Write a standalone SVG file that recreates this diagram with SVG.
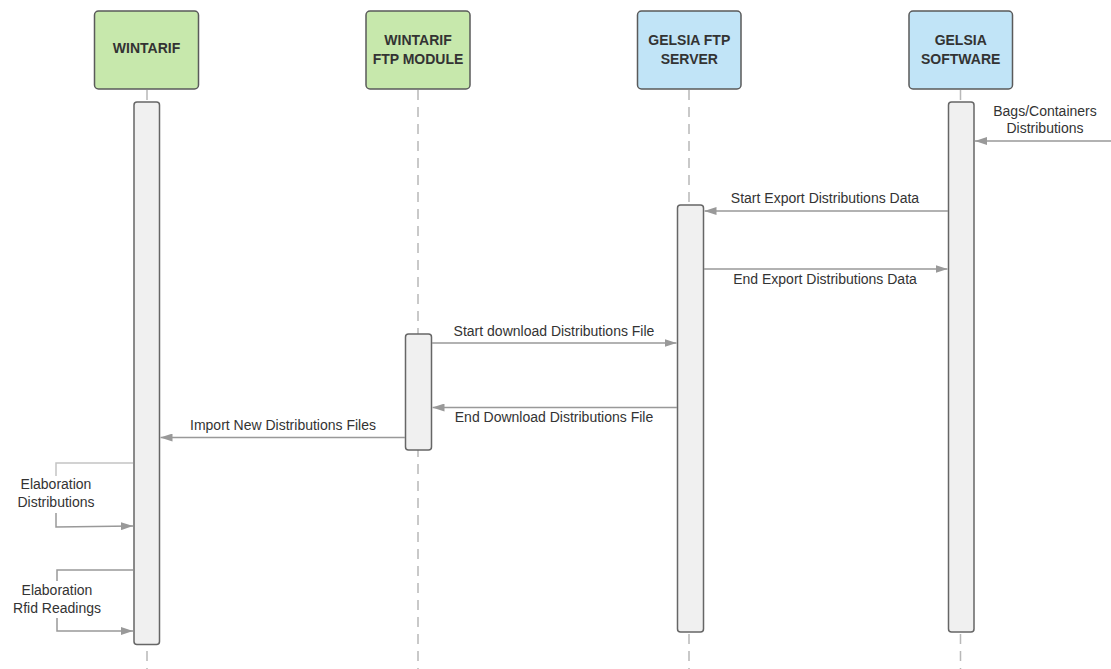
<svg xmlns="http://www.w3.org/2000/svg" width="1111" height="669" viewBox="0 0 1111 669">
<style>
.hdr{stroke:#5a5a5a;stroke-width:1.5}
.green{fill:#c7e8ac}
.blue{fill:#c1e4f7}
.ht{font-family:"Liberation Sans",Arial,sans-serif;font-size:14px;font-weight:bold;fill:#333;text-anchor:middle}
.life{stroke:#b8b8b8;stroke-width:1.5;stroke-dasharray:10 7;fill:none}
.act{fill:#f0f0f0;stroke:#666;stroke-width:1.5}
.msg{stroke:#999;stroke-width:1.5;fill:none}
.lbl{font-family:"Liberation Sans",Arial,sans-serif;font-size:14px;fill:#333;text-anchor:middle}
</style>
<defs>
<marker id="ah" viewBox="0 0 12 8" refX="12" refY="4" markerWidth="12" markerHeight="8" markerUnits="userSpaceOnUse" orient="auto">
<path d="M0,0 L12,4 L0,8 Z" fill="#999"/>
</marker>
</defs>
<rect width="1111" height="669" fill="#fff"/>
<g id="lifelines">
<line class="life" x1="147" y1="90" x2="147" y2="669"/>
<line class="life" x1="418" y1="90" x2="418" y2="669"/>
<line class="life" x1="689" y1="90" x2="689" y2="669"/>
<line class="life" x1="960.5" y1="90" x2="960.5" y2="669"/>
</g>
<g id="n-wintarif">
<rect class="hdr green" x="94.5" y="11" width="104" height="78" rx="4"/>
<text class="ht" x="146.5" y="53">WINTARIF</text>
<rect class="act" x="134" y="102" width="25.5" height="542.5" rx="3"/>
</g>
<g id="n-ftpmodule">
<rect class="hdr green" x="366" y="11" width="104" height="78" rx="4"/>
<text class="ht" x="418" y="45">WINTARIF</text>
<text class="ht" x="418" y="63.5">FTP MODULE</text>
<rect class="act" x="405.5" y="334" width="26" height="116" rx="3"/>
</g>
<g id="n-ftpserver">
<rect class="hdr blue" x="637.5" y="11" width="103.5" height="78" rx="4"/>
<text class="ht" x="689.3" y="45">GELSIA FTP</text>
<text class="ht" x="689.3" y="63.5">SERVER</text>
<rect class="act" x="677.5" y="205" width="26" height="427" rx="3"/>
</g>
<g id="n-software">
<rect class="hdr blue" x="909" y="11" width="103.5" height="78" rx="4"/>
<text class="ht" x="960.7" y="45">GELSIA</text>
<text class="ht" x="960.7" y="63.5">SOFTWARE</text>
<rect class="act" x="948.5" y="102" width="25.5" height="530" rx="3"/>
</g>
<g id="connectors">
<line class="msg" x1="1111" y1="141" x2="975" y2="141" marker-end="url(#ah)"/>
<line class="msg" x1="948" y1="211" x2="704.5" y2="211" marker-end="url(#ah)"/>
<line class="msg" x1="704" y1="269" x2="947.5" y2="269" marker-end="url(#ah)"/>
<line class="msg" x1="432" y1="343" x2="676.5" y2="343" marker-end="url(#ah)"/>
<line class="msg" x1="677" y1="407.5" x2="432.5" y2="407.5" marker-end="url(#ah)"/>
<line class="msg" x1="405" y1="437.5" x2="160.5" y2="437.5" marker-end="url(#ah)"/>
<polyline class="msg" style="stroke:#c4c4c4" points="133,463 56,463 56,476"/>
<polyline class="msg" points="56,513 56,527 133,526" marker-end="url(#ah)"/>
<polyline class="msg" points="133,570 57,570 57,581"/>
<polyline class="msg" points="57,618 57,631 133,631" marker-end="url(#ah)"/>
</g>
<g id="labels">
<text class="lbl" x="1045" y="116">Bags/Containers</text>
<text class="lbl" x="1045" y="132.5">Distributions</text>
<text class="lbl" x="825" y="203">Start Export Distributions Data</text>
<text class="lbl" x="825" y="284">End Export Distributions Data</text>
<text class="lbl" x="554" y="336">Start download Distributions File</text>
<text class="lbl" x="554" y="422">End Download Distributions File</text>
<text class="lbl" x="283" y="430">Import New Distributions Files</text>
<text class="lbl" x="56" y="489">Elaboration</text>
<text class="lbl" x="56" y="507">Distributions</text>
<text class="lbl" x="57" y="595">Elaboration</text>
<text class="lbl" x="57" y="613">Rfid Readings</text>
</g>
</svg>
